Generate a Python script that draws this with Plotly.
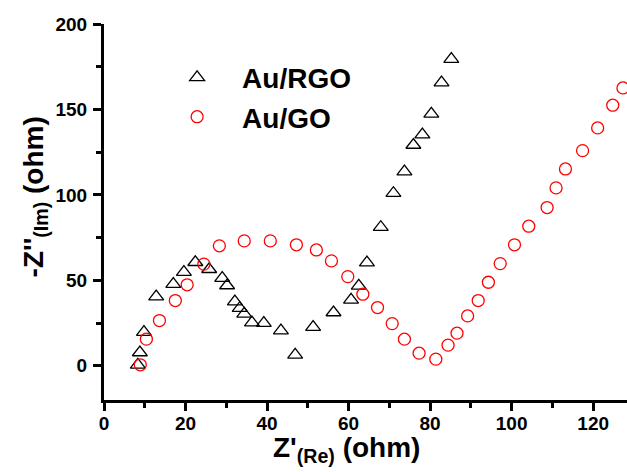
import plotly.graph_objects as go

# Au/RGO (triangles)
rgo_x = [8.3, 8.8, 9.8, 12.8, 17.0, 19.6, 22.4, 25.8, 29.0, 30.2, 32.1, 33.3, 34.4, 36.3,
         39.2, 43.4, 46.9, 51.3, 56.3, 60.6, 62.5, 64.5, 67.9, 71.0, 73.7, 75.9, 78.1,
         80.3, 82.8, 85.2]
rgo_y = [0.6, 7.8, 19.7, 40.5, 47.8, 54.8, 60.6, 56.5, 51.3, 47.0, 37.6, 33.7, 30.4, 25.3,
         25.0, 20.6, 6.4, 22.6, 31.2, 38.6, 46.8, 60.4, 81.1, 101.0, 113.6, 129.2, 135.3,
         147.4, 165.7, 179.5]

# Au/GO (circles)
go_x = [8.9, 10.4, 13.6, 17.5, 20.4, 24.5, 28.3, 34.4, 40.8, 47.2, 52.1, 55.8, 59.8, 63.5,
        67.1, 70.7, 73.7, 77.3, 81.4, 84.4, 86.6, 89.2, 91.8, 94.3, 97.2, 100.7, 104.2,
        108.7, 110.9, 113.2, 117.4, 121.1, 124.8, 127.3]
go_y = [0.6, 15.6, 26.5, 38.2, 47.4, 59.5, 70.2, 73.1, 73.1, 70.8, 67.8, 61.4, 52.2, 41.9,
        34.1, 24.7, 15.6, 7.4, 3.9, 12.1, 19.1, 29.2, 38.2, 48.9, 59.8, 70.8, 81.7,
        92.6, 104.1, 115.2, 125.9, 139.2, 152.5, 162.6]

FONT = "Arial, 'Liberation Sans', sans-serif"

fig = go.Figure()
fig.add_trace(go.Scatter(x=rgo_x, y=rgo_y, mode="markers", name="Au/RGO",
                         marker=dict(symbol="triangle-up-open", size=13, color="black",
                                     line=dict(width=1.3, color="black"))))
fig.add_trace(go.Scatter(x=go_x, y=go_y, mode="markers", name="Au/GO",
                         marker=dict(symbol="circle-open", size=12, color="red",
                                     line=dict(width=1.3, color="red"))))

axis_common = dict(showgrid=False, zeroline=False, showline=True, linewidth=3,
                   linecolor="black", ticks="outside", ticklen=8, tickwidth=3,
                   tickcolor="black", automargin=False,
                   tickfont=dict(family=FONT, size=19, color="black", weight="bold"))

fig.update_xaxes(range=[0, 128.3], tick0=0, dtick=20, ticklabelstandoff=-4,
                 minor=dict(dtick=10, ticks="outside", ticklen=5, tickwidth=3,
                            tickcolor="black"),
                 **axis_common)
fig.update_yaxes(range=[-20, 200], tick0=0, dtick=50, ticklabelstandoff=2,
                 minor=dict(dtick=25, ticks="outside", ticklen=5, tickwidth=3,
                            tickcolor="black"),
                 **axis_common)

fig.update_layout(
    width=627, height=472,
    margin=dict(l=104, r=0, t=24, b=72),
    paper_bgcolor="white", plot_bgcolor="white",
    font=dict(family=FONT, color="black"),
    showlegend=True,
    legend=dict(x=0.092, y=0.924, xanchor="left", yanchor="top",
                bgcolor="rgba(0,0,0,0)",
                font=dict(family=FONT, size=28, color="black", weight="bold"),
                itemwidth=80, tracegroupgap=0),
    annotations=[
        dict(text="Z'<sub>(Re)</sub> (ohm)", xref="paper", yref="paper",
             x=0.4635, y=-0.132, xanchor="center", yanchor="middle", showarrow=False,
             font=dict(family=FONT, size=28, color="black", weight="bold")),
        dict(text="-Z''<sub>(Im)</sub> (ohm)", xref="paper", yref="paper",
             x=-0.131, y=0.54, xanchor="center", yanchor="middle", showarrow=False,
             textangle=-90,
             font=dict(family=FONT, size=28, color="black", weight="bold")),
    ],
)

fig.write_html("out.html",
               config={"displayModeBar": False},
               post_script="document.body.style.margin='0';"
                           "document.body.style.padding='0';"
                           "document.body.style.overflow='hidden';")
